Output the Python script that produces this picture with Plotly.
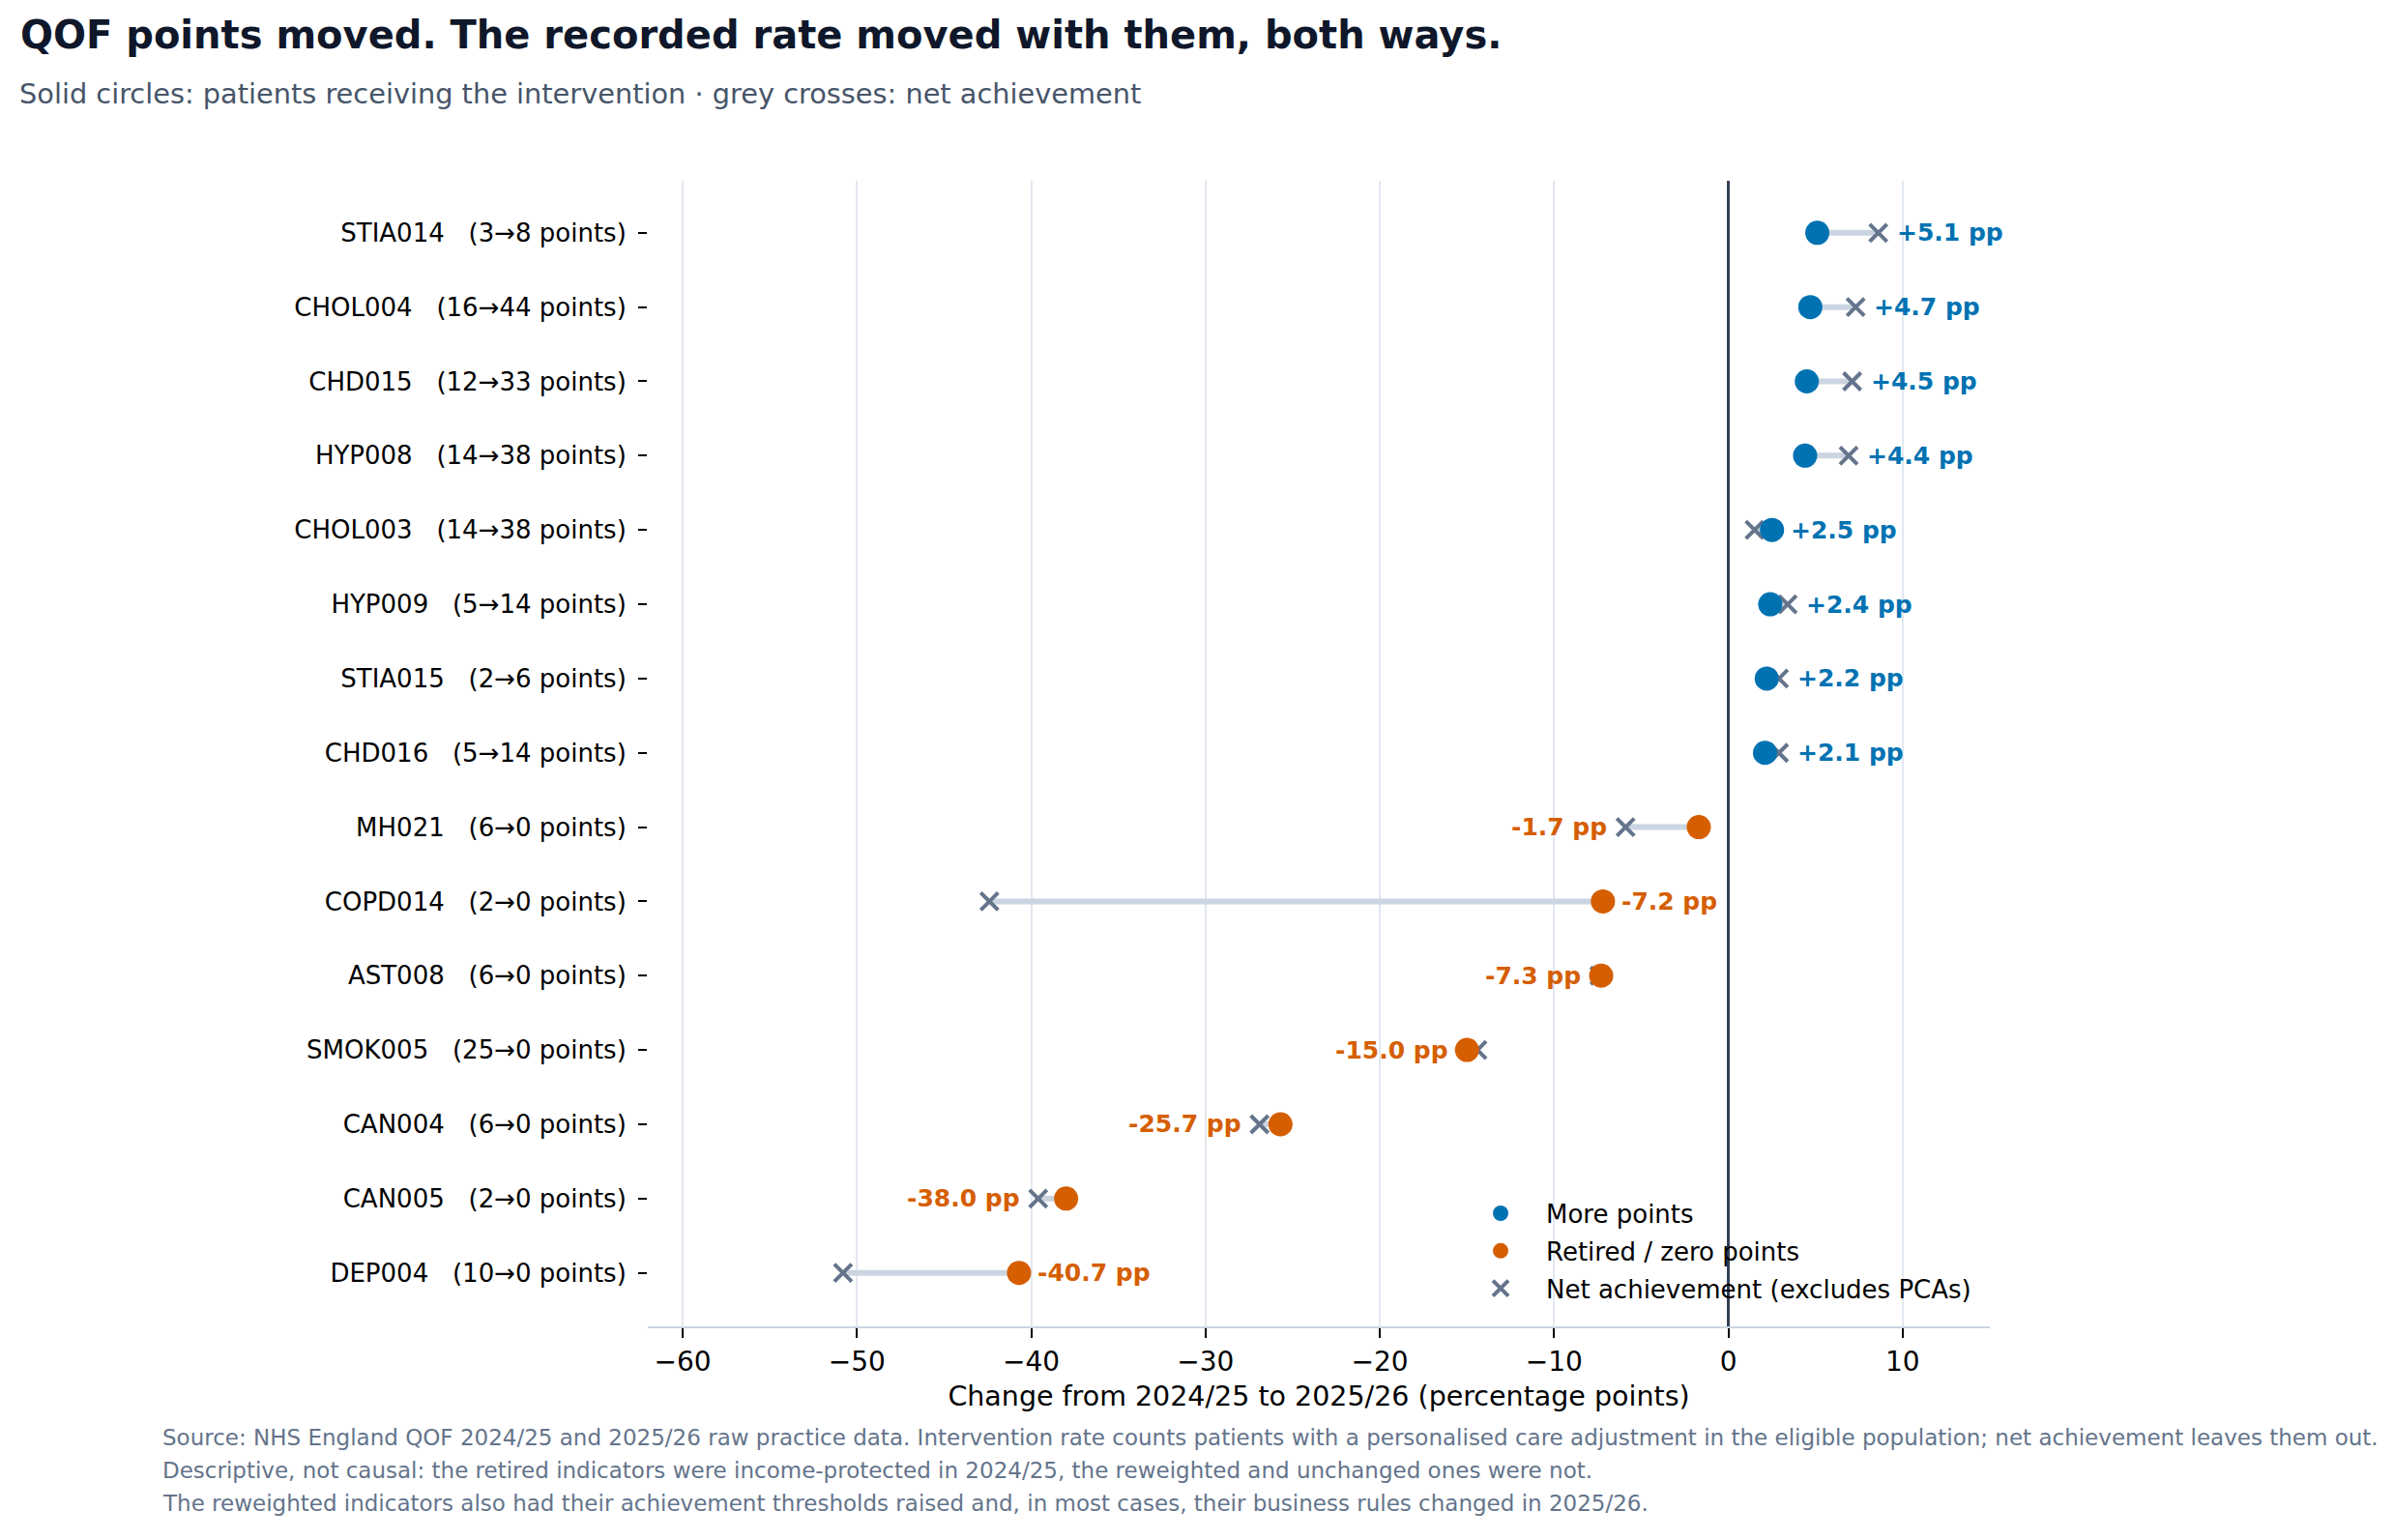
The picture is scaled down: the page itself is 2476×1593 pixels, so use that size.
import plotly.graph_objects as go

# indicators, top to bottom
indicators = ["STIA014", "CHOL004", "CHD015", "HYP008", "CHOL003", "HYP009", "STIA015", "CHD016",
              "MH021", "COPD014", "AST008", "SMOK005", "CAN004", "CAN005", "DEP004"]
points_before = [3, 16, 12, 14, 14, 5, 2, 5, 6, 2, 6, 25, 6, 2, 10]
points_after = [8, 44, 33, 38, 38, 14, 6, 14, 0, 0, 0, 0, 0, 0, 0]

# change in intervention rate (circles) and net achievement (crosses), pp
intervention_change = [5.1, 4.7, 4.5, 4.4, 2.5, 2.4, 2.2, 2.1, -1.7, -7.2, -7.3, -15.0, -25.7, -38.0, -40.7]
net_change = [8.6, 7.3, 7.1, 6.9, 1.5, 3.4, 2.9, 2.9, -5.9, -42.4, -7.4, -14.4, -26.9, -39.6, -50.8]

BLUE = "#0072B2"
ORANGE = "#D55E00"
GREY = "#64748b"
FONT = "DejaVu Sans"

labels = [f"{c}\u00a0\u00a0\u00a0({a}\u2192{b} points)" for c, a, b in zip(indicators, points_before, points_after)]
more = [b > a for a, b in zip(points_before, points_after)]

fig = go.Figure()

# connectors
cx, cy = [], []
for lab, c, n in zip(labels, intervention_change, net_change):
    cx += [c, n, None]
    cy += [lab, lab, None]
fig.add_trace(go.Scatter(x=cx, y=cy, mode="lines", line=dict(color="#cbd5e1", width=6),
                         showlegend=False, hoverinfo="skip"))

fig.add_trace(go.Scatter(
    x=net_change, y=labels, mode="markers", name="Net achievement (excludes PCAs)",
    marker=dict(symbol="x-thin", size=18, line=dict(color=GREY, width=4), color=GREY),
    legendrank=3, legendgroup="c"))

fig.add_trace(go.Scatter(
    x=[v for v, m in zip(intervention_change, more) if m],
    y=[l for l, m in zip(labels, more) if m],
    mode="markers", name="More points",
    marker=dict(size=25, color=BLUE, line=dict(width=0)), legendrank=1, legendgroup="a"))

fig.add_trace(go.Scatter(
    x=[v for v, m in zip(intervention_change, more) if not m],
    y=[l for l, m in zip(labels, more) if not m],
    mode="markers", name="Retired / zero points",
    marker=dict(size=25, color=ORANGE, line=dict(width=0)), legendrank=2, legendgroup="b"))

# value labels
for lab, c, n, m in zip(labels, intervention_change, net_change, more):
    col = BLUE if m else ORANGE
    if c >= 0:
        x, shift, anchor = max(c, n), 17, "left"
    elif c - n > 5:
        x, shift, anchor = c, 17, "left"
    else:
        x, shift, anchor = min(c, n), -17, "right"
    fig.add_annotation(x=x, y=lab, text=f"{c:+.1f} pp" if c >= 0 else f"{c:.1f} pp",
                       xshift=shift, xanchor=anchor, showarrow=False,
                       font=dict(family=FONT, size=25, color=col, weight="bold"))

fig.add_annotation(xref="paper", yref="paper", x=-0.4698, y=1.0759, xanchor="left", yanchor="middle",
                   text="Solid circles: patients receiving the intervention \u00b7 grey crosses: net achievement",
                   showarrow=False, font=dict(family=FONT, size=28.8, color="#475569"))

notes = [
    "Source: NHS England QOF 2024/25 and 2025/26 raw practice data. Intervention rate counts patients with a personalised care adjustment in the eligible population; net achievement leaves them out.",
    "Descriptive, not causal: the retired indicators were income-protected in 2024/25, the reweighted and unchanged ones were not.",
    "The reweighted indicators also had their achievement thresholds raised and, in most cases, their business rules changed in 2025/26.",
]
for i, t in enumerate(notes):
    fig.add_annotation(xref="paper", yref="paper", x=-0.3631, y=-0.097 - i * 0.0287,
                       xanchor="left", yanchor="middle", text=t, showarrow=False,
                       font=dict(family=FONT, size=23, color="#64748b"))

# page body has an 8px margin, so the figure is shifted by that much
fig.update_layout(
    width=2476, height=1593,
    margin=dict(l=662, r=426, t=179, b=229),
    paper_bgcolor="white", plot_bgcolor="white",
    font=dict(family=FONT, color="black"),
    title=dict(text="<b>QOF points moved. The recorded rate moved with them, both ways.</b>",
               xref="container", yref="container", x=13 / 2476, y=1 - 28 / 1593,
               xanchor="left", yanchor="middle",
               font=dict(family=FONT, size=40, color="#0f172a")),
    xaxis=dict(range=[-62, 15], dtick=10, tick0=0, showgrid=True, gridcolor="#e2e8f0", gridwidth=2,
               zeroline=True, zerolinecolor="#334155", zerolinewidth=3,
               showline=True, linecolor="#cbd5e1", linewidth=2,
               ticks="outside", ticklen=10, tickwidth=2, tickcolor="black",
               tickfont=dict(family=FONT, size=28, color="black"),
               title=dict(text="Change from 2024/25 to 2025/26 (percentage points)", standoff=10,
                          font=dict(family=FONT, size=28.5, color="black"))),
    yaxis=dict(type="category", categoryorder="array", categoryarray=labels,
               range=[14.72, -0.7], showgrid=False, zeroline=False, showline=False,
               ticks="outside", ticklen=9, tickwidth=2, tickcolor="black", ticklabelstandoff=7,
               tickfont=dict(family=FONT, size=26, color="black")),
    legend=dict(x=0.6016, y=0.013, xanchor="left", yanchor="bottom", bgcolor="rgba(0,0,0,0)",
                font=dict(family=FONT, size=26, color="black"), tracegroupgap=2,
                itemwidth=84),
    showlegend=True,
)

fig.write_html("out.html")
